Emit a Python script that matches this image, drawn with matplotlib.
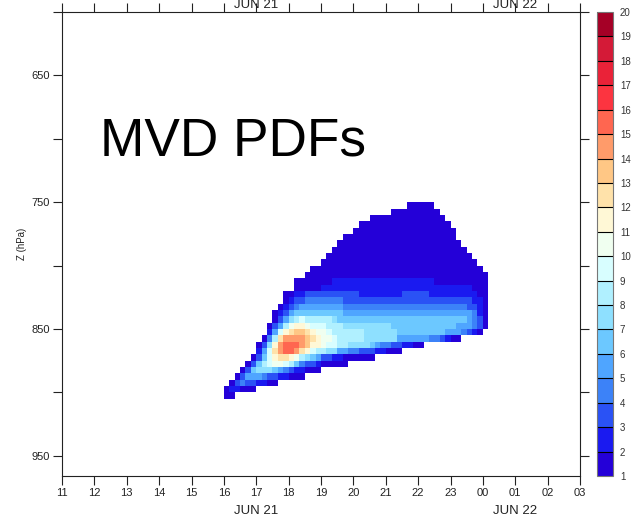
import numpy as np
import matplotlib
matplotlib.use("Agg")
import matplotlib.pyplot as plt
from matplotlib.colors import ListedColormap, BoundaryNorm
from matplotlib import font_manager
import matplotlib.transforms as mtransforms

# ---------------- data ----------------
# hour ticks (x axis, hours since 00 UTC Jun 21; 24+ = Jun 22)
hour_ticks = list(range(11, 28))
hour_labels = ["11", "12", "13", "14", "15", "16", "17", "18", "19", "20",
               "21", "22", "23", "00", "01", "02", "03"]
day_labels = ["JUN 21", "JUN 22"]
day_label_hours = [17, 25]

# pressure ticks
pres_ticks = [600, 650, 700, 750, 800, 850, 900, 950]
pres_labels = ["", "650", "", "750", "", "850", "", "950"]

# colour-bar levels and colours (19 boxes between 1..20)
levels = list(range(1, 21))
level_colors = ['#2400D8', '#1A1AF0', '#2A52F5', '#3C82F8', '#4FA5FF',
                '#6CC8FF', '#8EE0FF', '#B0F0FF', '#D8FEFF', '#F0FFF0',
                '#FFF8D6', '#FFE2AA', '#FFC785', '#FF9B6A', '#FF6650',
                '#FC3440', '#EA2238', '#D41A37', '#A50026']

# PDF field: grid of 10-minute columns starting 16:00, 5-hPa rows starting 750 hPa
time_start_h = 16.0
time_step_h = 1.0 / 6.0
n_time = 49
pres_start = 750.0
pres_step = 5.0
# each row: first column index, then values (1-9, a=10 ... f=15)
row_start = [34, 31, 27, 25, 24, 22, 21, 20, 19, 18, 16, 15, 13, 13, 11, 11,
             10, 9, 9, 8, 8, 7, 6, 6, 5, 4, 3, 2, 1, 0, 0]
row_values = [
    "11111",
    "111111111",
    "11111111111111",
    "11111111111111111",
    "1111111111111111111",
    "111111111111111111111",
    "11111111111111111111111",
    "1111111111111111111111111",
    "111111111111111111111111111",
    "11111111111111111111111111111",
    "11111111111111111111111111111111",
    "1111111111111111111111111111111111",
    "1111111" + "2222222222222222222" + "1111111111",
    "11111" + "2222222222222222222222222222" + "111",
    "11" + "22" + "3333333333" + "22222222" + "33333" + "222222222" + "11",
    "1233" + "4444444" + "333333333333333333333333" + "22" + "1",
    "1234" + "55555555" + "44444444444444444444444" + "33" + "2" + "1",
    "12356" + "66666666" + "555555555555555555555555" + "421",
    "135789" + "88888" + "7" + "666666666666666666666666" + "5431",
    "1358a" + "bba999" + "888" + "777777777" + "666666666666" + "555" + "431",
    "259bcddcbaa9" + "888888" + "777777" + "666666666" + "555" + "4321",
    "148ceeeedcbaa9" + "88888" + "777777" + "555555" + "44" + "3" + "2" + "11",
    "137befffedbba9988" + "7777" + "6" + "5" + "44" + "33" + "22" + "11",
    "259ceffecb988775544" + "333" + "22" + "111",
    "1369bccba87653322" + "111111",
    "13689aa986433211111",
    "136777654322111",
    "1355543322111",
    "134332211",
    "122111",
    "11",
]

# ---------------- build grid ----------------
n_pres = len(row_values)
field = np.full((n_pres, n_time), np.nan)
for j, (s, vals) in enumerate(zip(row_start, row_values)):
    for i, ch in enumerate(vals):
        field[j, s + i] = int(ch, 16) + 0.5

t_edges = time_start_h + np.arange(n_time + 1) * time_step_h
p_edges = pres_start + np.arange(n_pres + 1) * pres_step

# ---------------- fonts ----------------
avail = {f.name for f in font_manager.fontManager.ttflist}
narrow = "Liberation Sans Narrow" if "Liberation Sans Narrow" in avail else "Liberation Sans"
plt.rcParams["font.family"] = [narrow, "DejaVu Sans"]

# ---------------- figure ----------------
W, H = 639, 522
fig = plt.figure(figsize=(W / 100, H / 100), dpi=100)
ax = fig.add_axes([62 / W, 46 / H, 518 / W, 464 / H])
cax = fig.add_axes([597 / W, 46 / H, 16 / W, 464 / H])

cmap = ListedColormap(level_colors)
norm = BoundaryNorm(levels, cmap.N)
mesh = ax.pcolormesh(t_edges, p_edges, np.ma.masked_invalid(field),
                     cmap=cmap, norm=norm, shading="flat")

ax.set_xlim(11, 27)
ax.set_ylim(966, 600)
ax.set_xticks(hour_ticks)
ax.set_xticklabels(hour_labels)
ax.set_yticks(pres_ticks)
ax.set_yticklabels(pres_labels)
ax.tick_params(direction="out", length=6.5, width=0.8, top=True, right=True,
               labelsize=8, pad=2, colors="#222222")
for sp in ax.spines.values():
    sp.set_linewidth(0.8)
    sp.set_color("#222222")

trans = mtransforms.blended_transform_factory(ax.transData, ax.transAxes)
for lab, hx in zip(day_labels, day_label_hours):
    ax.text(hx, -0.075, lab, transform=trans, ha="center", va="center",
            fontsize=9.5, color="#222222")
    ax.text(hx, 1.0086, lab, transform=trans, ha="center", va="baseline",
            fontsize=9.5, color="#222222", clip_on=False)

ax.text(0.073, 0.6900, "MVD PDFs", transform=ax.transAxes, fontsize=38.3,
        family=["Liberation Sans", "DejaVu Sans"], va="baseline", ha="left")

fig.text(22 / W, 1 - 244 / H, "Z (hPa)", rotation=90, fontsize=7,
         va="center", ha="center", color="#222222")

cb = fig.colorbar(mesh, cax=cax, ticks=levels, drawedges=True)
cb.outline.set_edgecolor("#777777")
cb.outline.set_linewidth(0.8)
cb.dividers.set_color("black")
cb.dividers.set_linewidth(0.8)
cax.tick_params(length=0, labelsize=7, pad=5, colors="#333333")

fig.savefig("out.png", dpi=100)
